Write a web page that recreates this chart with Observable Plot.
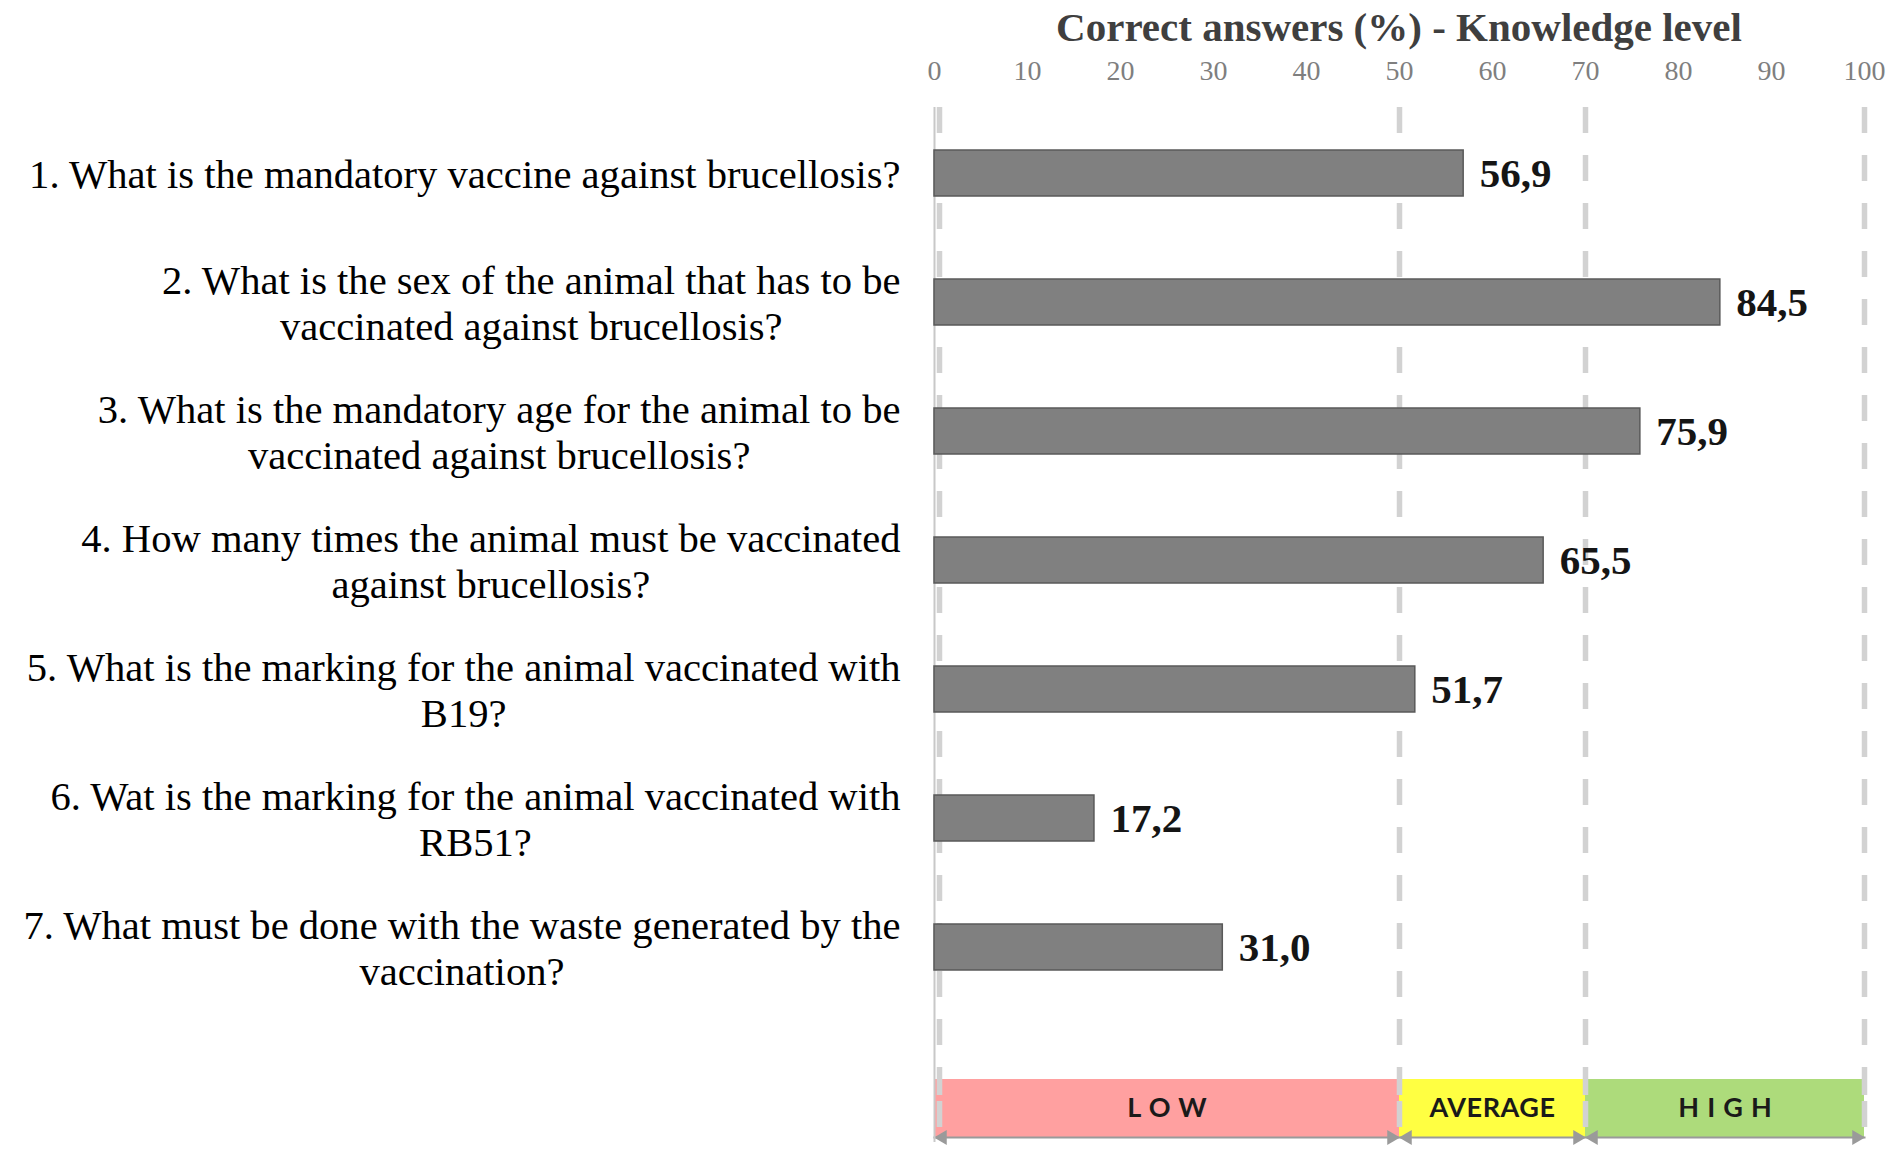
<!DOCTYPE html>
<html>
<head>
<meta charset="utf-8">
<script src="https://cdn.jsdelivr.net/npm/d3@7"></script>
<script src="https://cdn.jsdelivr.net/npm/@observablehq/plot@0.6"></script>
<style>
  body { margin: 0; background: #fff; }
  #chart { position: relative; width: 1902px; height: 1155px; overflow: hidden; background: #fff; }
  #title { position: absolute; left: 934px; width: 930px; top: 0; height: 54px; line-height: 54px;
           text-align: center; font-family: "Liberation Serif", "Times New Roman", serif; font-weight: bold;
           font-size: 41px; color: #3f3f3f; white-space: nowrap; }
  #plotA { position: absolute; left: 0; top: 0; }
  #plotB { position: absolute; left: 0; top: 1075px; }
  #plotA g[aria-label="y-axis tick label"],
  #plotA g[aria-label="y-axis tick label"] text { font-family: "Liberation Serif", "Times New Roman", serif !important; }
  #plotA g[aria-label="x-axis tick label"] text { font-family: "Liberation Serif", "Times New Roman", serif !important; }
</style>
</head>
<body>
<div id="chart">
  <div id="title">Correct answers (%) - Knowledge level</div>
  <div id="plotA"></div>
  <div id="plotB"></div>
</div>
<script>
// ---- data ----
const questions = [
  "1. What is the mandatory vaccine against brucellosis?",
  "2. What is the sex of the animal that has to be\nvaccinated against brucellosis?",
  "3. What is the mandatory age for the animal to be\nvaccinated against brucellosis?",
  "4. How many times the animal must be vaccinated\nagainst brucellosis?",
  "5. What is the marking for the animal vaccinated with\nB19?",
  "6. Wat is the marking for the animal vaccinated with\nRB51?",
  "7. What must be done with the waste generated by the\nvaccination?"
];
const correctPct = [56.9, 84.5, 75.9, 65.5, 51.7, 17.2, 31.0];
const xTicks = [0, 10, 20, 30, 40, 50, 60, 70, 80, 90, 100];
const levelNames = ["LOW", "AVERAGE", "HIGH"];
const levelFrom = [0, 50, 70];
const levelTo = [50, 70, 100];
const levelBreaks = [0, 50, 70, 100];

// ---- derived tables ----
const rows = questions.map((q, i) => ({question: q, value: correctPct[i]}));
const levels = levelNames.map((n, i) => ({name: n, from: levelFrom[i], to: levelTo[i]}));
const arrowHeads = levels.flatMap(l => [{x: l.from, side: "left"}, {x: l.to, side: "right"}]);

const W = 1902;
const ML = 934, MR = 38;
const serif = "'Liberation Serif', 'Times New Roman', serif";
const sans = "Lato, 'Open Sans', sans-serif";

const plotA = Plot.plot({
  width: W, height: 1075,
  marginLeft: ML, marginRight: MR, marginTop: 107, marginBottom: 0,
  style: {background: "transparent", overflow: "visible", fontFamily: serif},
  x: {domain: [0, 100]},
  y: {domain: questions, range: [106, 1013], paddingInner: 0.645, paddingOuter: 0.3225},
  marks: [
    Plot.ruleX([0], {stroke: "#c8c8c8", strokeWidth: 2}),
    Plot.ruleX([0], {stroke: "#d2d2d2", strokeWidth: 5.5, strokeDasharray: "26,22", dx: 5}),
    Plot.ruleX(levelBreaks.slice(1), {stroke: "#d2d2d2", strokeWidth: 5.5, strokeDasharray: "26,22"}),
    Plot.barX(rows, {x: "value", y: "question", fill: "#808080", stroke: "#595959", strokeWidth: 1.5}),
    Plot.text(rows, {x: "value", y: "question", text: d => d.value.toFixed(1).replace(".", ","),
      textAnchor: "start", dx: 16, fontSize: 41, fontWeight: "bold", fontFamily: serif, fill: "#151515"}),
    Plot.axisX({anchor: "top", ticks: xTicks, tickSize: 0, tickPadding: 28, fontSize: 28,
      fontFamily: serif, fill: "#7f7f7f", label: null, tickFormat: d => String(d)}),
    Plot.axisY({anchor: "left", tickSize: 0, tickPadding: 34, fontSize: 40.6, fontFamily: serif,
      fill: "#000", label: null, lineHeight: 1.13})
  ]
});

const plotB = Plot.plot({
  width: W, height: 80,
  marginLeft: ML, marginRight: MR, marginTop: 4, marginBottom: 18,
  style: {background: "transparent", overflow: "visible", fontFamily: sans},
  x: {domain: [0, 100], axis: null},
  color: {domain: levelNames, range: ["#ffa0a0", "#ffff42", "#addb7b"]},
  marks: [
    Plot.rect(levels, {x1: "from", x2: "to", fill: "name"}),
    Plot.frame({anchor: "bottom", stroke: "#9a9a9a", strokeWidth: 2}),
    Plot.dot(arrowHeads.filter(d => d.side === "left"), {x: "x", frameAnchor: "bottom", symbol: "triangle",
      r: 5.5, rotate: -90, dx: 8, fill: "#9a9a9a", stroke: "none"}),
    Plot.dot(arrowHeads.filter(d => d.side === "right"), {x: "x", frameAnchor: "bottom", symbol: "triangle",
      r: 5.5, rotate: 90, dx: -8, fill: "#9a9a9a", stroke: "none"}),
    Plot.ruleX([0], {stroke: "#c8c8c8", strokeWidth: 2, insetTop: -4, insetBottom: -5}),
    Plot.ruleX([0], {stroke: "#d2d2d2", strokeWidth: 5.5, strokeDasharray: "20,6,26,22", dx: 5, insetTop: -4, insetBottom: -2}),
    Plot.ruleX(levelBreaks.slice(1), {stroke: "#d2d2d2", strokeWidth: 5.5, strokeDasharray: "20,6,26,22", insetTop: -4, insetBottom: -2}),
    Plot.text(levels, {x: d => (d.from + d.to) / 2, text: "name",
      frameAnchor: "middle", fontSize: 27, fontWeight: "bold", fontFamily: sans, fill: "#1a1a1a"})
  ]
});

document.getElementById("plotA").append(plotA);
document.getElementById("plotB").append(plotB);

// centre the wrapped second line under the first (Excel-style wrapped labels)
plotA.querySelectorAll('g[aria-label="y-axis tick label"] text').forEach(t => {
  const spans = t.querySelectorAll("tspan");
  if (spans.length < 2) return;
  const w = spans[0].getComputedTextLength();
  t.setAttribute("text-anchor", "middle");
  spans.forEach(s => s.setAttribute("x", -w / 2));
});

// spaced capitals for LOW / HIGH as in the original
plotB.querySelectorAll("text").forEach(t => {
  const s = t.textContent;
  if (s === "LOW" || s === "HIGH") {
    t.style.letterSpacing = "0.3em";
    t.setAttribute("dx", "0.15em");
  } else if (s === "AVERAGE") {
    t.style.letterSpacing = "0.02em";
  }
});
</script>
</body>
</html>
